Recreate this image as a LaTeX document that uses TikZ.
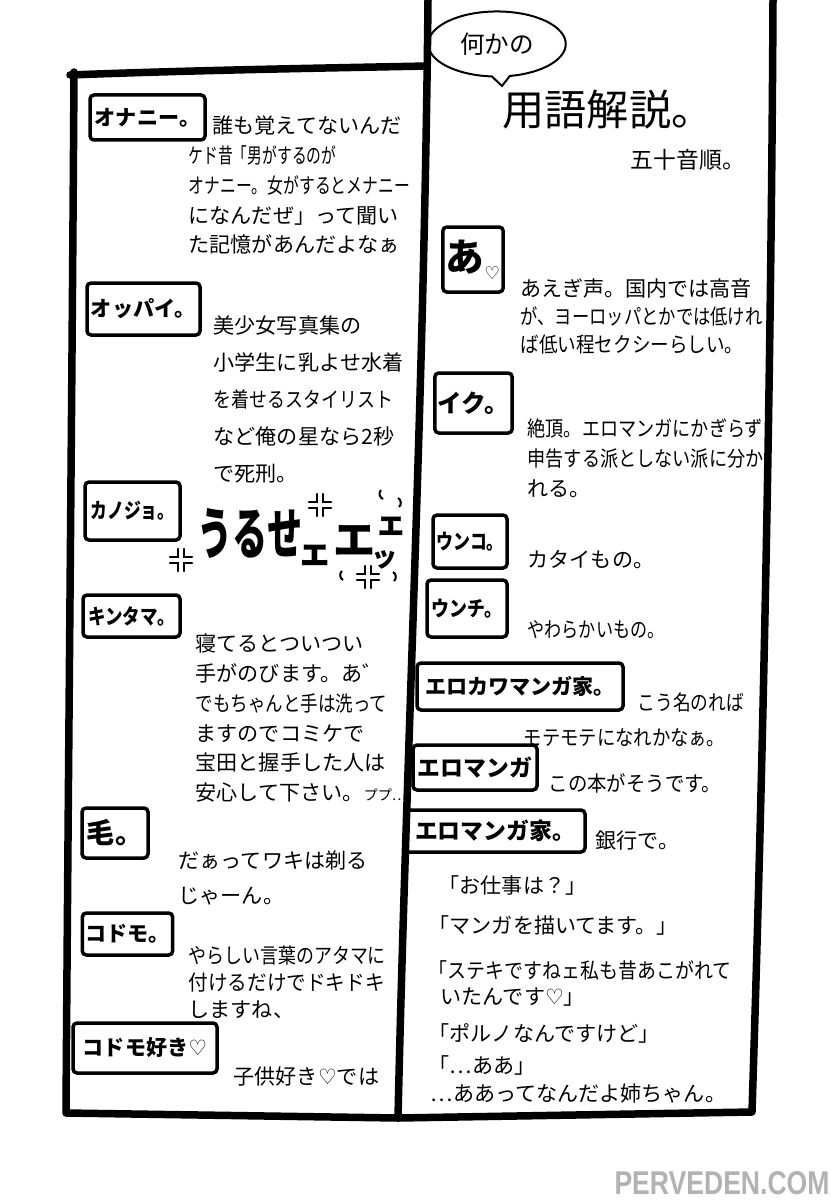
\documentclass[tikz,border=0pt]{standalone}
\usepackage{graphicx}
\usepackage{fontspec}
\setmainfont{Noto Sans CJK JP}
\newfontfamily\dejavu{DejaVu Sans}
\newfontfamily\wmfont{Liberation Sans}
\usetikzlibrary{shapes.callouts}

\newcommand{\hrt}{{\dejavu ♡}}
\newcommand{\sq}[2]{\scalebox{#1}[1]{#2}}

\tikzset{
	panelline/.style={line width=0.75mm, line cap=round, line join=round},
	term/.style={draw, line width=0.35mm, rounded corners=0.4mm, inner sep=0.3mm,
		font=\bfseries\fontsize{6}{7}\selectfont},
	desc/.style={inner sep=0pt, align=left, anchor=north west,
		font=\fontsize{6}{8.5}\selectfont},
	oneline/.style={inner sep=0pt, anchor=west, font=\fontsize{6}{7}\selectfont},
	anger/.pic={
		\draw[line width=0.25mm, line cap=round]
			(-3,-11) -- (-3,-3) -- (-11,-3)
			(3,-11) -- (3,-3) -- (11,-3)
			(-3,11) -- (-3,3) -- (-11,3)
			(3,11) -- (3,3) -- (11,3);
	}
}

\begin{document}
\begin{tikzpicture}[x=0.1mm,y=-0.1mm]
	\useasboundingbox[fill=white] (0,0) rectangle (831,1200);

	% panels
	\draw[panelline] (74,72) .. controls (72,400) and (68,800) .. (66,1113) -- (398,1118);
	\draw[panelline] (70,75) .. controls (200,70) and (330,68) .. (427,66);
	\draw[panelline] (428,0) .. controls (424,400) and (406,760) .. (398,1118)
		-- (752,1112) .. controls (762,800) and (771,400) .. (773,0);

	% left column
	\node[term, minimum width=11.5mm, minimum height=4.5mm] (onanie) at (147.5,117.5) {オナニー。};
	\node[desc] (onanie-txt) at (188,115) {\hspace*{2.4mm}誰も覚えてないんだ\\
		\sq{0.7}{ケド昔「男がするのが}\\
		\sq{0.75}{オナニー。女がするとメナニー}\\
		になんだぜ」って聞い\\
		た記憶があんだよなぁ};

	\node[term, minimum width=11.3mm, minimum height=5.2mm] (oppai) at (143.5,309) {オッパイ。};
	\node[desc, font=\fontsize{6}{10.5}\selectfont] (oppai-txt) at (213,315) {美少女写真集の\\
		小学生に乳よせ水着\\
		\sq{0.85}{を着せるスタイリスト}\\
		など俺の星なら2秒\\
		で死刑。};

	\node[term, minimum width=9.5mm, minimum height=5.8mm] (kanojo) at (132.5,511) {\sq{0.8}{カノジョ。}};
	\node[inner sep=0pt, font=\bfseries\fontsize{10}{10}\selectfont] (uruse) at (250,533) {\scalebox{1}[1.6]{うるせ}};
	\node[inner sep=0pt, font=\bfseries\fontsize{10}{10}\selectfont] (uruse-e1) at (315,555) {ェ};
	\node[inner sep=0pt, font=\bfseries\fontsize{12}{12}\selectfont] (uruse-e2) at (355,540) {エ};
	\node[inner sep=0pt, font=\bfseries\fontsize{9}{9}\selectfont] (uruse-e3) at (391,526) {ェ};
	\node[inner sep=0pt, font=\bfseries\fontsize{7.5}{7.5}\selectfont] (uruse-tsu) at (385,560) {ッ};
	\pic at (181,560) {anger};
	\pic at (320,505) {anger};
	\pic at (368,577) {anger};
	\draw[line width=0.2mm] (381,490) to[bend right=60] (383,499);
	\draw[line width=0.2mm] (398,498) to[bend left=60] (399,507);
	\draw[line width=0.2mm] (342,571) to[bend right=60] (343,580);
	\draw[line width=0.2mm] (393,572) to[bend left=60] (394,581);

	\node[term, minimum width=9.7mm, minimum height=4.2mm] (kintama) at (131.5,616) {\sq{0.83}{キンタマ。}};
	\node[desc] (kintama-txt) at (195,633) {寝てるとついつい\\
		手がのびます。あ゛\\
		\sq{0.83}{でもちゃんと手は洗って}\\
		ますのでコミケで\\
		宝田と握手した人は\\
		安心して下さい。{\fontsize{4}{4}\selectfont ププ…}};

	\node[term, minimum width=6.6mm, minimum height=5mm, font=\bfseries\fontsize{8}{8}\selectfont] (ke) at (115,833) {毛。};
	\node[desc, font=\fontsize{6}{10}\selectfont] (ke-txt) at (178,850) {だぁってワキは剃る\\
		じゃーん。};

	\node[term, minimum width=8.9mm, minimum height=4.2mm] (kodomo) at (127.5,934) {コドモ。};
	\node[desc, font=\fontsize{6}{7.7}\selectfont] (kodomo-txt) at (188,945) {\sq{0.85}{やらしい言葉のアタマに}\\
		\sq{0.93}{付けるだけでドキドキ}\\
		しますね、};

	\node[term, minimum width=14.4mm, minimum height=5mm] (kodomosuki) at (145,1048) {コドモ好き\hrt};
	\node[oneline] (kodomosuki-txt) at (233,1077) {子供好き\hrt では};

	% right column
	\node[ellipse callout, draw, line width=0.2mm, minimum width=10mm, minimum height=6.4mm,
		callout absolute pointer={(502,86)}, font=\fontsize{7}{7}\selectfont] (bubble) at (497,44) {何かの};
	\node[font=\fontsize{12}{12}\selectfont] (title) at (608,110) {用語解説。};
	\node[font=\fontsize{6.5}{6.5}\selectfont] (order) at (688,160) {五十音順。};

	\node[term, minimum width=6mm, minimum height=6.5mm] (a) at (473,259.5)
		{{\fontsize{11}{11}\selectfont あ}\raisebox{-0.8mm}{\fontsize{5}{5}\selectfont\hrt}};
	\node[desc, font=\fontsize{6}{8}\selectfont] (a-txt) at (520,278) {あえぎ声。国内では高音\\
		\sq{0.82}{が、ヨーロッパとかでは低けれ}\\
		\sq{0.88}{ば低い程セクシーらしい。}};

	\node[term, minimum width=7.7mm, minimum height=6mm, font=\bfseries\fontsize{7}{7}\selectfont] (iku) at (473.5,403) {イク。};
	\node[desc] (iku-txt) at (527,418) {\sq{0.86}{絶頂。エロマンガにかぎらず}\\
		\sq{0.86}{申告する派としない派に分か}\\
		れる。};

	\node[term, minimum width=7.4mm, minimum height=5.3mm] (unko) at (470,541.5) {\sq{0.8}{ウンコ。}};
	\node[oneline] (unko-txt) at (527,560) {カタイもの。};

	\node[term, minimum width=8mm, minimum height=5.7mm] (unchi) at (467,608.5) {\sq{0.85}{ウンチ。}};
	\node[oneline] (unchi-txt) at (527,630) {\sq{0.81}{やわらかいもの。}};

	\node[term, minimum width=20.6mm, minimum height=4.7mm] (erokawa) at (520,686.5) {エロカワマンガ家。};
	\node[oneline] (erokawa-txt) at (637,702) {\sq{0.84}{こう名のれば}};
	\node[oneline] (erokawa-txt2) at (523,738) {\sq{0.87}{モテモテになれかなぁ。}};

	\node[term, minimum width=12.4mm, minimum height=4.5mm, font=\bfseries\fontsize{6.5}{7}\selectfont] (eromanga) at (475,767.5) {エロマンガ};
	\node[oneline] (eromanga-txt) at (548,783) {\sq{0.92}{この本がそうです。}};

	\node[term, minimum width=18mm, minimum height=4.2mm, font=\bfseries\fontsize{6.5}{7}\selectfont] (eromangaka) at (495,831) {エロマンガ家。};
	\node[oneline] (eromangaka-txt) at (595,840) {銀行で。};
	\node[oneline] (talk1) at (438,885) {「お仕事は？」};
	\node[oneline] (talk2) at (428,925) {「マンガを描いてます。」};
	\node[oneline] (talk3) at (428,970) {\sq{0.9}{「ステキですねェ私も昔あこがれて}};
	\node[oneline] (talk4) at (440,997) {いたんです\hrt 」};
	\node[oneline] (talk5) at (428,1033) {「ポルノなんですけど」};
	\node[oneline] (talk6) at (428,1065) {「…ああ」};
	\node[oneline] (talk7) at (430,1093) {…ああってなんだよ姉ちゃん。};

	% watermark
	\node[text=gray!60, inner sep=0pt] (wm) at (722,1183) {\resizebox{21.5mm}{2.3mm}{\wmfont\bfseries PERVEDEN.COM}};
\end{tikzpicture}
\end{document}
